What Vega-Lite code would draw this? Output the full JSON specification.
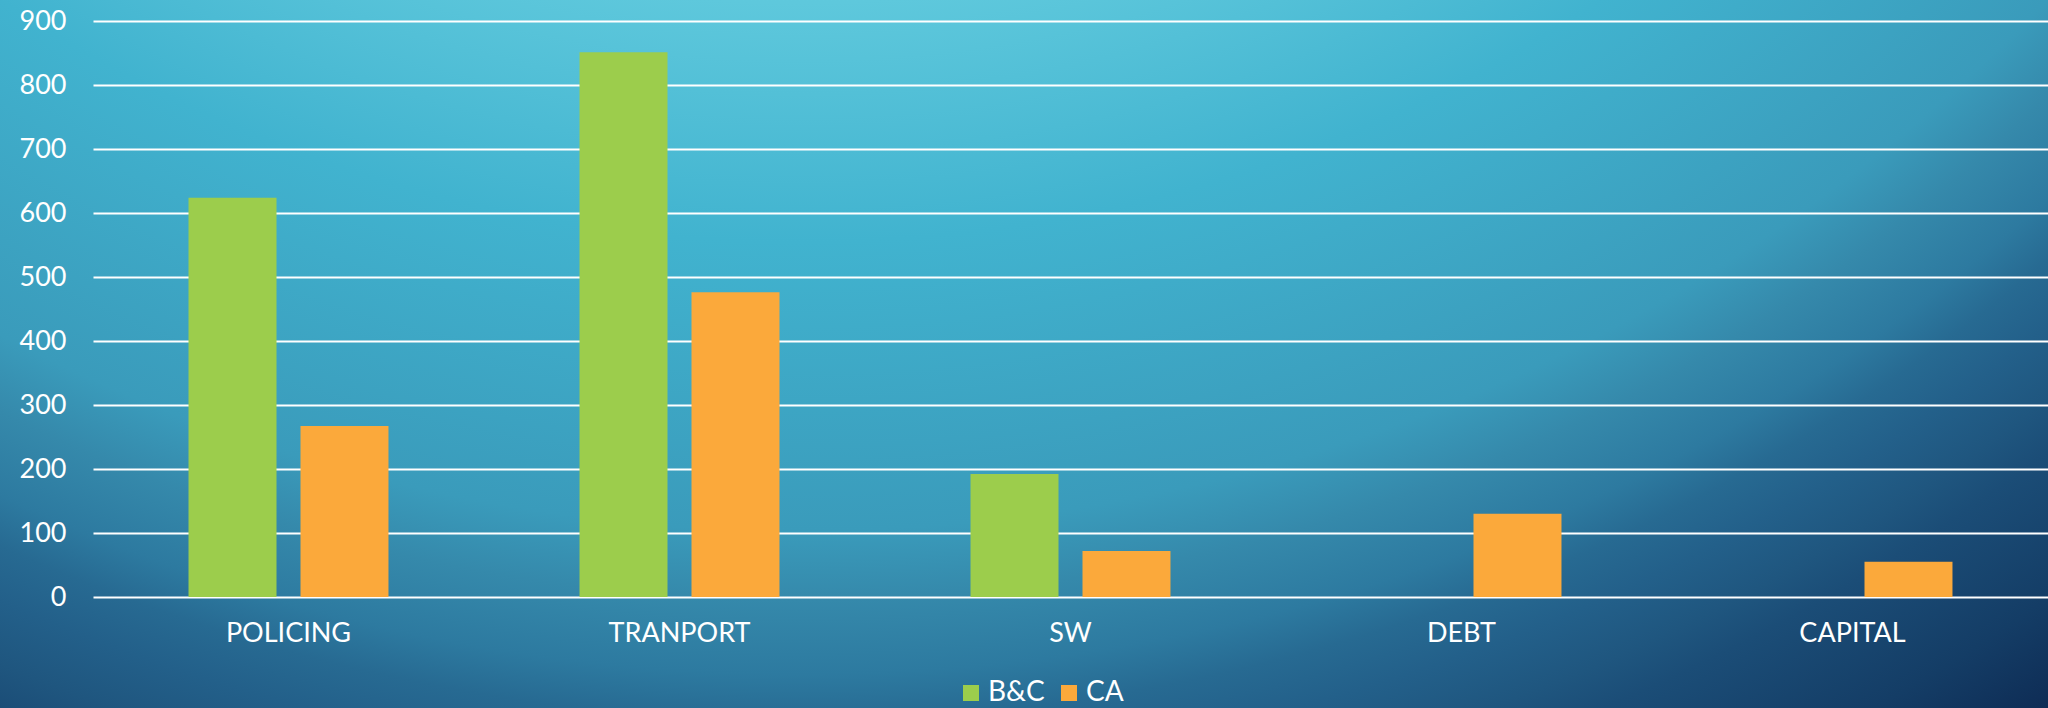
{
  "$schema": "https://vega.github.io/schema/vega-lite/v6.json",
  "width": 2048,
  "height": 708,
  "padding": 0,
  "autosize": {"type": "none"},
  "background": "#2c7fa3",
  "view": {
    "stroke": null,
    "fill": {
      "gradient": "radial",
      "x1": 0.3906, "y1": -0.2588, "r1": 0.5615,
      "x2": 0.3906, "y2": -0.2588, "r2": 1.123,
      "stops": [
        {"offset": 0, "color": "#62cadd"},
        {"offset": 0.046, "color": "#5ec8dc"},
        {"offset": 0.254, "color": "#41b3cf"},
        {"offset": 0.505, "color": "#3a9bbb"},
        {"offset": 0.565, "color": "#3589ab"},
        {"offset": 0.63, "color": "#2d7aa0"},
        {"offset": 0.67, "color": "#276a92"},
        {"offset": 0.713, "color": "#23608a"},
        {"offset": 0.764, "color": "#1f567f"},
        {"offset": 0.8, "color": "#1b4d77"},
        {"offset": 0.904, "color": "#143d66"},
        {"offset": 0.983, "color": "#0e2c55"},
        {"offset": 1, "color": "#0d2a52"}
      ]
    }
  },
  "data": {
    "values": [
      {"category": "POLICING", "series": "B&C", "value": 624},
      {"category": "POLICING", "series": "CA", "value": 267},
      {"category": "TRANPORT", "series": "B&C", "value": 851},
      {"category": "TRANPORT", "series": "CA", "value": 476},
      {"category": "SW", "series": "B&C", "value": 192},
      {"category": "SW", "series": "CA", "value": 72},
      {"category": "DEBT", "series": "CA", "value": 130},
      {"category": "CAPITAL", "series": "CA", "value": 55}
    ]
  },
  "mark": {"type": "bar"},
  "encoding": {
    "x": {
      "field": "category",
      "type": "nominal",
      "sort": null,
      "scale": {
        "domain": ["POLICING", "TRANPORT", "SW", "DEBT", "CAPITAL"],
        "range": [93, 2048],
        "paddingInner": 0,
        "paddingOuter": 0
      },
      "axis": {
        "title": null,
        "orient": "bottom",
        "domain": false,
        "ticks": false,
        "tickSize": 0,
        "grid": false,
        "labelPadding": -75,
        "labelBaseline": "middle",
        "labelAngle": 0,
        "labelColor": "white",
        "labelFont": "Lato",
        "labelFontSize": 27
      }
    },
    "xOffset": {
      "field": "series",
      "type": "nominal",
      "scale": {"domain": ["B&C", "CA"], "paddingInner": 0.2143, "paddingOuter": 0.853}
    },
    "y": {
      "field": "value",
      "type": "quantitative",
      "scale": {"domain": [0, 900], "range": [597, 21], "nice": false, "zero": true},
      "axis": {
        "title": null,
        "orient": "left",
        "values": [0, 100, 200, 300, 400, 500, 600, 700, 800, 900],
        "grid": true,
        "gridColor": "#ffffff",
        "gridWidth": 2,
        "gridOpacity": 1,
        "domain": false,
        "ticks": false,
        "tickSize": 0,
        "labelPadding": -66,
        "labelAlign": "right",
        "labelBaseline": "middle",
        "labelColor": "white",
        "labelFont": "Lato",
        "labelFontSize": 27,
        "labelOverlap": false
      }
    },
    "color": {
      "field": "series",
      "type": "nominal",
      "scale": {"domain": ["B&C", "CA"], "range": ["#9ccd4c", "#fba93b"]},
      "legend": {
        "title": null,
        "orient": "none",
        "legendX": 957,
        "legendY": 679,
        "direction": "horizontal",
        "symbolType": "square",
        "symbolSize": 256,
        "symbolStrokeWidth": 0,
        "symbolOpacity": 1,
        "labelColor": "white",
        "labelFont": "Lato",
        "labelFontSize": 28,
        "labelOffset": 3,
        "columnPadding": 10,
        "padding": 0
      }
    }
  }
}
